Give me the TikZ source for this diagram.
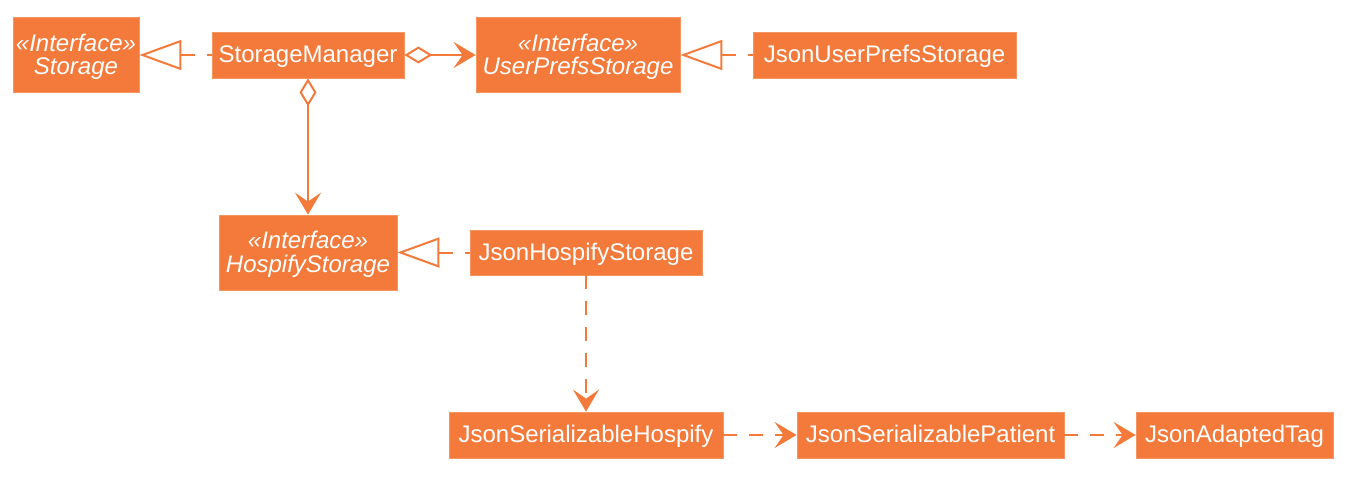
\documentclass[tikz,border=0pt]{standalone}
\usepackage{fontspec}
\setmainfont{Liberation Sans}
\usetikzlibrary{arrows.meta}
\definecolor{uml}{HTML}{F37A3A}
\begin{document}
\begin{tikzpicture}[x=1pt,y=-1pt,
  cls/.style={draw=uml!80!white, line width=0.8pt, fill=uml, text=white, inner sep=0pt,
    font=\fontsize{24}{23.5}\selectfont},
  one/.style={cls, text height=17.5pt, text depth=2.5pt, minimum height=46pt},
  iface/.style={cls, align=center, minimum height=75pt},
  link/.style={draw=uml, line width=2pt},
  dsh/.style={dash pattern=on 14pt off 12pt},
  realize/.style={link, dsh, {Triangle[open, length=42pt, width=30pt, line width=2pt, fill=white]}-},
  dep/.style={link, dsh, -{Stealth[length=22pt, width=26pt, inset=9pt]}},
  agg/.style={link, {Diamond[open, length=28pt, width=17pt, line width=2pt, fill=white]}-{Stealth[length=22pt, width=26pt, inset=9pt]}}
]
\useasboundingbox (0,0) rectangle (1353,479);
\node[iface, minimum width=126pt] (storage) at (76,55) {\rule{0pt}{21pt}\itshape «Interface»\\\itshape Storage};
\node[one, minimum width=192pt] (sm) at (308,55) {StorageManager};
\node[iface, minimum width=204pt] (ups) at (578,55) {\rule{0pt}{21pt}\itshape «Interface»\\\itshape UserPrefsStorage};
\node[one, minimum width=263pt] (jups) at (884.5,55) {JsonUserPrefsStorage};
\node[iface, minimum width=178pt] (hs) at (308,252.5) {\rule{0pt}{21pt}\itshape «Interface»\\\itshape HospifyStorage};
\node[one, minimum width=232pt, minimum height=45pt] (jhs) at (586,252.5) {JsonHospifyStorage};
\node[one, minimum width=274pt] (jsh) at (586,435) {JsonSerializableHospify};
\node[one, minimum width=267pt] (jsp) at (930.5,435) {JsonSerializablePatient};
\node[one, minimum width=197pt] (jat) at (1234.5,435) {JsonAdaptedTag};

\draw[realize] (storage.east) -- (sm.west);
\draw[realize] (ups.east) -- (jups.west);
\draw[realize] (hs.east) -- (hs.east -| jhs.west);
\draw[agg] (sm.east) -- (ups.west);
\draw[agg] (sm.south) -- (hs.north);
\draw[dep] (jhs.south) -- (jsh.north);
\draw[dep] (jsh.east) -- (jsp.west);
\draw[dep] (jsp.east) -- (jat.west);
\end{tikzpicture}
\end{document}
